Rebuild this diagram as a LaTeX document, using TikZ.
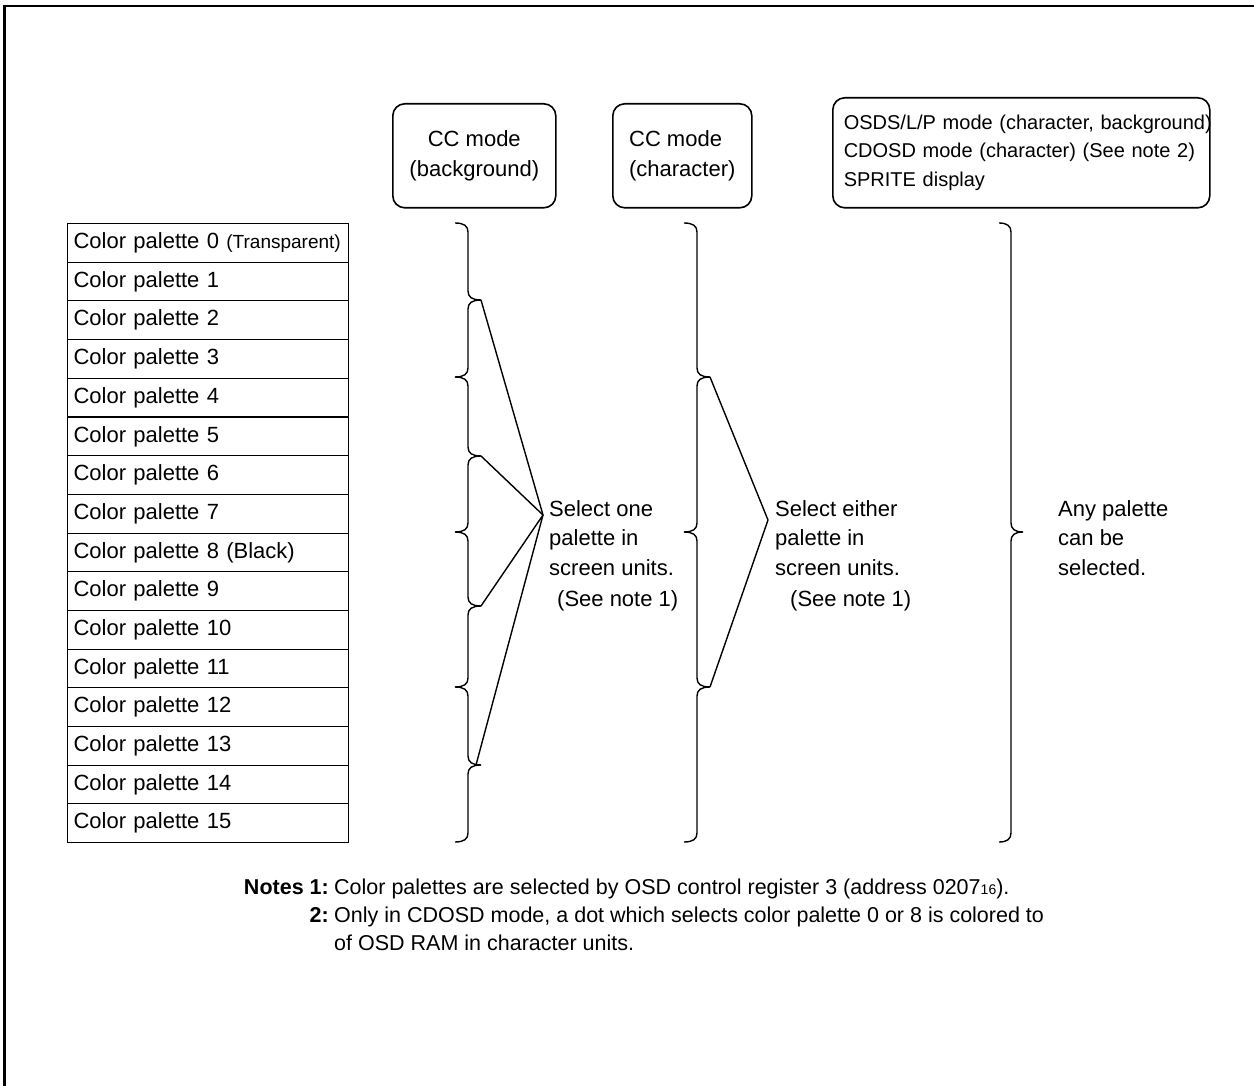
\documentclass[tikz,border=0pt]{standalone}
\usepackage{fontspec}
\setmainfont{Liberation Sans}
\begin{document}
\begin{tikzpicture}[x=1pt,y=-1pt,
  every node/.style={font=\fontsize{22}{29.5}\selectfont, inner sep=0pt},
  cell/.style={draw, line width=1.1pt, minimum width=281pt, minimum height=38.7pt, anchor=north west, text width=269pt, inner xsep=6pt, align=left},
  modebox/.style={draw, line width=1.6pt, rounded corners=12pt, anchor=north west},
  brc/.style={line width=1.4pt},
  conn/.style={line width=1.4pt},
  lbl/.style={anchor=west, align=left},
  note/.style={font=\fontsize{21.5}{28}\selectfont},
]
\useasboundingbox (0,0) rectangle (1254,1086);
% frame
\draw[line width=2.5pt] (4.5,1086) -- (4.5,6) -- (1254,6);

% palette table
\foreach \i/\t in {0/{Color palette 0 {\fontsize{19}{19}\selectfont(Transparent)}},
  1/Color palette 1, 2/Color palette 2, 3/Color palette 3, 4/Color palette 4,
  5/Color palette 5, 6/Color palette 6, 7/Color palette 7, 8/Color palette 8 (Black),
  9/Color palette 9, 10/Color palette 10, 11/Color palette 11, 12/Color palette 12,
  13/Color palette 13, 14/Color palette 14, 15/Color palette 15}
  \node[cell] (r\i) at (67,{223+\i*38.69}) {\t};

% mode boxes
\node[modebox, minimum width=163pt, minimum height=104pt, align=center] (m1) at (392,103) {CC mode\\(background)};
\node[modebox, minimum width=139pt, minimum height=104pt, align=left] (m2) at (612,103) {CC mode\\(character)};
\node[modebox, minimum width=376pt, minimum height=110pt, text width=355pt, inner xsep=11pt, align=left, font=\fontsize{20}{28.5}\selectfont] (m3) at (832,97) {\makebox[355pt][l]{OSDS/L/P mode (character, background)}\\\makebox[355pt][l]{CDOSD mode (character) (See note 2)}\\\makebox[355pt][l]{SPRITE display}};

% brace chain, column 1
\foreach \ya/\da/\yb/\db in {223/-1/300/1, 300/1/377/-1, 377/-1/456/1, 456/1/532/-1, 532/-1/606/1, 606/1/687/-1, 687/-1/765/1, 765/1/842/-1}
  \draw[brc] ({468+13*\da},\ya) .. controls ({468+4*\da},\ya) and (468,\ya+3) .. (468,\ya+9) -- (468,\yb-9) .. controls (468,\yb-3) and ({468+4*\db},\yb) .. ({468+13*\db},\yb);
% brace chain, column 2
\foreach \ya/\da/\yb/\db in {223/-1/377/1, 377/1/532/-1, 532/-1/687/1, 687/1/842/-1}
  \draw[brc] ({697+13*\da},\ya) .. controls ({697+4*\da},\ya) and (697,\ya+3) .. (697,\ya+9) -- (697,\yb-9) .. controls (697,\yb-3) and ({697+4*\db},\yb) .. ({697+13*\db},\yb);
% brace, column 3
\foreach \ya/\da/\yb/\db in {223/-1/532/1, 532/1/842/-1}
  \draw[brc] ({1011+12*\da},\ya) .. controls ({1011+4*\da},\ya) and (1011,\ya+3) .. (1011,\ya+9) -- (1011,\yb-9) .. controls (1011,\yb-3) and ({1011+4*\db},\yb) .. ({1011+12*\db},\yb);

% tips and convergence points
\coordinate (a1) at (481,300);
\coordinate (a2) at (481,456);
\coordinate (a3) at (481,606);
\coordinate (a4) at (476,765);
\coordinate (c1) at (543,515);
\coordinate (b1) at (710,377);
\coordinate (b2) at (710,687);
\coordinate (c2) at (768,520);
\foreach \p in {a1,a2,a3,a4} \draw[conn] (\p) -- (c1);
\foreach \p in {b1,b2} \draw[conn] (\p) -- (c2);

% labels
\node[lbl] (s1) at (549,538) {Select one\\palette in\\screen units.};
\node[lbl] (n1) at (557,601) {(See note 1)};
\node[lbl] (s2) at (775,538) {Select either\\palette in\\screen units.};
\node[lbl] (n2) at (790,601) {(See note 1)};
\node[lbl] (s3) at (1058,538) {Any palette\\can be\\selected.};

% notes
\node[note, anchor=base east] (nt1) at (329,894) {\bfseries Notes 1:};
\node[note, anchor=base west] (nx1) at (334,894) {Color palettes are selected by OSD control register 3 (address 0207{\fontsize{14}{14}\selectfont 16}).};
\node[note, anchor=base east] (nt2) at (329,922) {\bfseries 2:};
\node[note, anchor=base west] (nx2) at (334,922) {Only in CDOSD mode, a dot which selects color palette 0 or 8 is colored to};
\node[note, anchor=base west] (nx3) at (334,950) {of OSD RAM in character units.};
\end{tikzpicture}
\end{document}
